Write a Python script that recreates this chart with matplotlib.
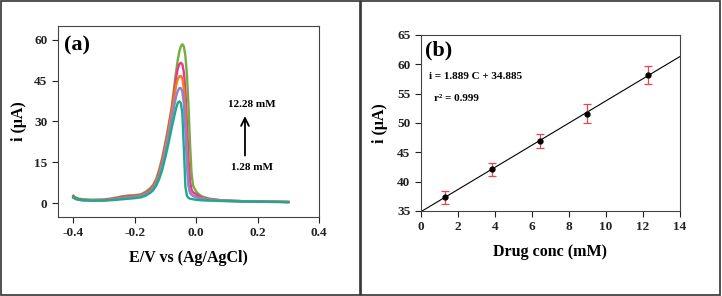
import matplotlib
matplotlib.use("Agg")
import matplotlib.pyplot as plt
from matplotlib.patches import Rectangle

plt.rcParams['font.family'] = ['Liberation Serif', 'DejaVu Serif']
plt.rcParams['font.weight'] = 'bold'

# ---- panel (a): DPV curves, potential (V) vs current (uA) ----
E = [-0.40, -0.395, -0.385, -0.37, -0.34, -0.30, -0.27, -0.24, -0.22, -0.20,
     -0.18, -0.165, -0.15, -0.14, -0.13, -0.12, -0.11, -0.10, -0.09, -0.08,
     -0.07, -0.065, -0.06, -0.055, -0.05, -0.045, -0.04, -0.035, -0.03, -0.025,
     -0.02, -0.015, -0.01, 0.0, 0.01, 0.02, 0.04, 0.07, 0.10, 0.15, 0.20, 0.25, 0.30]

i_green = [2.8, 2.3, 1.8, 1.5, 1.3, 1.4, 1.9, 2.6, 2.9, 3.0,
           3.3, 4.2, 5.5, 6.8, 9.0, 12.5, 17.0, 22.5, 28.5, 35.0,
           44.0, 48.5, 52.5, 55.5, 57.5, 58.3, 57.5, 54.0, 47.0, 36.0,
           22.0, 11.0, 6.5, 4.3, 3.2, 2.5, 1.8, 1.3, 1.0, 0.8, 0.7, 0.6, 0.5]
i_magenta = [2.6, 2.1, 1.6, 1.3, 1.2, 1.3, 1.7, 2.3, 2.6, 2.8,
             3.0, 3.8, 5.0, 6.3, 8.3, 11.5, 16.0, 21.5, 27.5, 34.0,
             42.0, 46.3, 49.3, 51.0, 51.5, 51.0, 48.0, 41.0, 29.0, 16.0,
             8.0, 5.0, 4.0, 3.3, 2.6, 2.1, 1.6, 1.2, 1.0, 0.8, 0.7, 0.6, 0.5]
i_orange = [2.2, 1.9, 1.4, 1.2, 1.1, 1.2, 1.5, 2.0, 2.3, 2.5,
            2.8, 3.5, 4.6, 5.8, 7.8, 10.8, 15.0, 20.5, 26.5, 33.0,
            40.0, 43.3, 45.5, 46.5, 46.7, 45.8, 42.0, 33.0, 18.0, 7.0,
            4.0, 3.2, 2.8, 2.4, 2.0, 1.8, 1.5, 1.2, 0.9, 0.8, 0.7, 0.6, 0.5]
i_purple = [2.0, 1.7, 1.3, 1.1, 1.0, 1.1, 1.4, 1.8, 2.1, 2.3,
            2.6, 3.3, 4.3, 5.4, 7.2, 10.0, 14.0, 19.0, 24.5, 30.5,
            36.5, 39.3, 41.2, 42.2, 42.3, 41.0, 36.5, 27.0, 14.0, 6.5,
            4.0, 3.2, 2.7, 2.2, 1.9, 1.7, 1.4, 1.1, 0.9, 0.8, 0.7, 0.6, 0.5]
i_teal = [2.3, 1.9, 1.4, 1.2, 1.0, 1.0, 1.2, 1.5, 1.7, 1.9,
          2.2, 2.8, 3.8, 4.8, 6.5, 9.0, 12.5, 17.0, 22.0, 27.5,
          32.5, 35.0, 36.8, 37.4, 36.8, 33.0, 20.0, 6.0, 2.8, 2.0,
          1.7, 1.6, 1.5, 1.3, 1.2, 1.1, 1.0, 0.9, 0.8, 0.7, 0.6, 0.5, 0.45]

curves = [i_green, i_magenta, i_orange, i_purple, i_teal]
curve_colors = ['#72ae3c', '#e8388c', '#f07d1e', '#8c83d6', '#1fa98b']

# ---- panel (b): calibration ----
conc = [1.28, 3.85, 6.42, 8.99, 12.28]
peak_i = [37.3, 42.1, 47.0, 51.6, 58.2]
err = [1.1, 1.15, 1.2, 1.6, 1.5]
slope, intercept = 1.889, 34.885
fit_x = [0, 14]

fig = plt.figure(figsize=(7.22, 2.96), dpi=100)

# panel borders
fig.patches.append(Rectangle((0.002, 0.004), 0.497, 0.992, transform=fig.transFigure,
                             fill=False, edgecolor='#333333', linewidth=1.2))
fig.patches.append(Rectangle((0.500, 0.004), 0.497, 0.992, transform=fig.transFigure,
                             fill=False, edgecolor='#333333', linewidth=1.2))


def style_axes(ax):
    for s in ax.spines.values():
        s.set_linewidth(0.8)
        s.set_color('#444444')
    ax.tick_params(direction='out', length=4, width=0.8, labelsize=9.5,
                   top=False, right=False, colors='#222222')
    for lab in ax.get_xticklabels() + ax.get_yticklabels():
        lab.set_fontweight('bold')


ax1 = fig.add_axes([0.0803, 0.2669, 0.3615, 0.6453])
for y, c in zip(curves, curve_colors):
    ax1.plot(E, y, color=c, linewidth=1.7)
ax1.set_xlim(-0.45, 0.4)
ax1.set_ylim(-5, 65)
ax1.set_xticks([-0.4, -0.2, 0.0, 0.2, 0.4])
ax1.set_xticklabels(['-0.4', '-0.2', '0.0', '0.2', '0.4'])
ax1.set_yticks([0, 15, 30, 45, 60])
style_axes(ax1)
ax1.set_xlabel('E/V vs (Ag/AgCl)', fontsize=11.5, fontweight='bold')
ax1.set_ylabel('i (\u03bcA)', fontsize=11.5, fontweight='bold')
ax1.xaxis.set_label_coords(0.5, -0.175)
ax1.yaxis.set_label_coords(-0.12, 0.5)
ax1.text(-0.43, 58, '(a)', fontsize=16, fontweight='bold', va='center')
ax1.text(0.182, 36.4, '12.28 mM', fontsize=8, fontweight='bold', ha='center', va='center')
ax1.text(0.182, 13.2, '1.28 mM', fontsize=8, fontweight='bold', ha='center', va='center')
ax1.annotate('', xy=(0.159, 33.0), xytext=(0.159, 16.5),
             arrowprops=dict(arrowstyle='->', color='black', lw=1.3, mutation_scale=14))

ax2 = fig.add_axes([0.5831, 0.2872, 0.3587, 0.5946])
ax2.plot(fit_x, [slope * x + intercept for x in fit_x], color='black', linewidth=0.8)
ax2.errorbar(conc, peak_i, yerr=err, fmt='o', color='black', markersize=3.5,
             ecolor='#e8474c', elinewidth=0.9, capsize=3, capthick=0.9)
ax2.set_xlim(0, 14)
ax2.set_ylim(35, 65)
ax2.set_xticks(range(0, 15, 2))
ax2.set_yticks(range(35, 66, 5))
style_axes(ax2)
ax2.set_xlabel('Drug conc (mM)', fontsize=11.5, fontweight='bold')
ax2.set_ylabel('i (\u03bcA)', fontsize=11.5, fontweight='bold')
ax2.xaxis.set_label_coords(0.5, -0.185)
ax2.yaxis.set_label_coords(-0.127, 0.5)
ax2.text(0.2, 62.4, '(b)', fontsize=16, fontweight='bold', va='center')
ax2.text(0.45, 57.9, 'i = 1.889 C + 34.885', fontsize=8, fontweight='bold', va='center')
ax2.text(0.69, 54.2, 'r\u00b2 = 0.999', fontsize=8, fontweight='bold', va='center')

fig.savefig('out.png', dpi=100)
